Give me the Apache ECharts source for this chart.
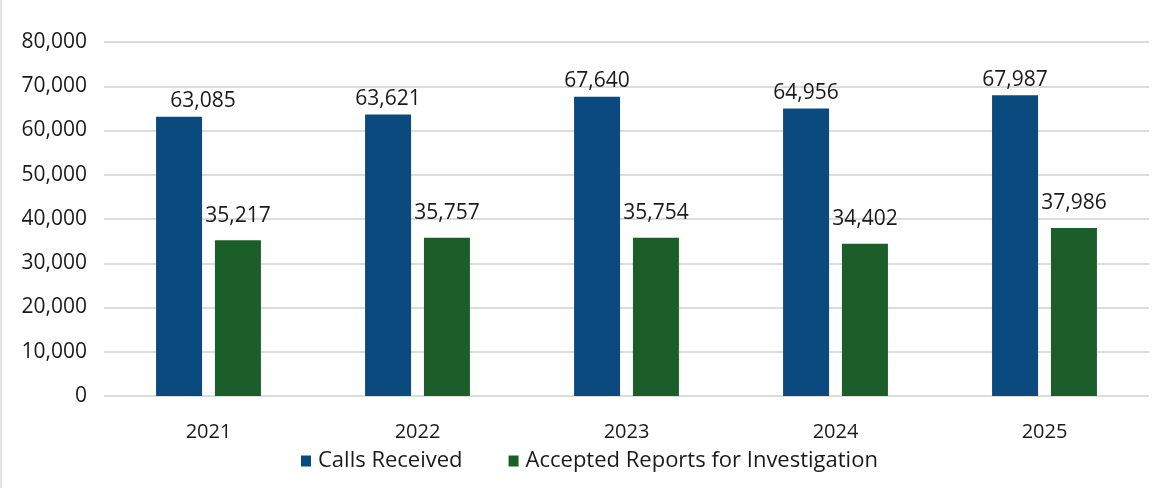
<!DOCTYPE html>
<html>
<head>
<meta charset="utf-8">
<script src="https://cdn.jsdelivr.net/npm/echarts@6/dist/echarts.min.js"></script>
<style>
    html, body { margin: 0; padding: 0; background: #fff; }
    #chart { width: 1159px; height: 488px; border-left: 2px solid #e3e3e3; box-sizing: border-box; }
</style>
</head>
<body>
<div id="chart"></div>
<script>
const years = ['2021', '2022', '2023', '2024', '2025']
const callsReceived = [63085, 63621, 67640, 64956, 67987]
const acceptedReports = [35217, 35757, 35754, 34402, 37986]

const chart = echarts.init(document.getElementById('chart'))

const fmt = (v) => v.toLocaleString('en-US')
const font = '"Open Sans", "Noto Sans", sans-serif'
const textColor = '#1a1a1a'

chart.setOption({
    animation: false,
    textStyle: { fontFamily: font },
    grid: {
        left: 102,
        right: 10,
        top: 42,
        bottom: 92,
    },
    legend: {
        bottom: 11,
        left: 294,
        itemWidth: 10,
        itemHeight: 11,
        itemGap: 46,
        icon: 'rect',
        textStyle: { fontSize: 22, color: textColor, fontFamily: font, padding: [9, 0, 0, 2] },
        data: ['Calls Received', 'Accepted Reports for Investigation'],
    },
    xAxis: {
        type: 'category',
        data: years,
        axisLine: { show: false },
        axisTick: { show: false },
        axisLabel: { color: textColor, fontSize: 20, margin: 26 },
    },
    yAxis: {
        type: 'value',
        min: 0,
        max: 80000,
        interval: 10000,
        axisLabel: {
            color: textColor,
            fontSize: 21,
            margin: 17,
            formatter: (v) => fmt(v),
        },
        splitLine: { lineStyle: { color: '#dcdcdc', width: 2 } },
    },
    series: [
        {
            name: 'Calls Received',
            type: 'bar',
            data: callsReceived.map((v, i) => (i === 0 ? { value: v, label: { offset: [24, 0] } } : v)),
            barWidth: 46,
            barGap: '28%',
            itemStyle: { color: '#0b4a7e' },
            label: {
                show: true,
                position: 'top',
                distance: 5,
                color: textColor,
                fontSize: 21,
                formatter: (p) => fmt(p.value),
            },
        },
        {
            name: 'Accepted Reports for Investigation',
            type: 'bar',
            data: acceptedReports,
            barWidth: 46,
            itemStyle: { color: '#1b5e2a' },
            label: {
                show: true,
                position: 'top',
                distance: 14,
                color: textColor,
                fontSize: 21,
                formatter: (p) => fmt(p.value),
            },
        },
    ],
})
</script>
</body>
</html>
